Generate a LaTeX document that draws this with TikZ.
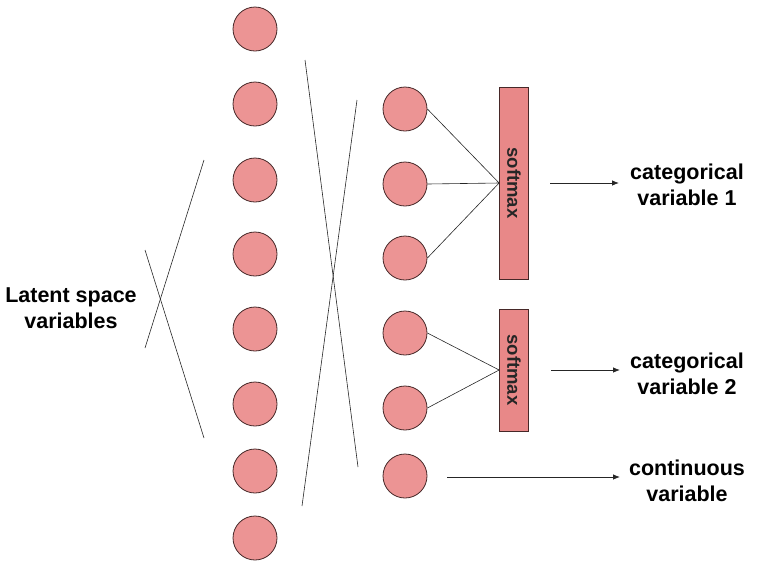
\documentclass[tikz,border=0pt]{standalone}
\usepackage{fontspec}
\setmainfont{Liberation Sans}
\usetikzlibrary{arrows.meta}
\definecolor{nodefill}{RGB}{236,148,148}
\definecolor{boxfill}{RGB}{232,136,136}
\definecolor{edge}{RGB}{70,40,40}
\begin{document}
\begin{tikzpicture}[x=1pt,y=-1pt,
  neuron/.style={circle,draw=edge,fill=nodefill,line width=0.8pt,minimum size=44pt,inner sep=0pt},
  smbox/.style={rectangle,draw=edge,fill=boxfill,line width=0.8pt,minimum width=29pt,inner sep=0pt},
  smtext/.style={font=\fontsize{18.5}{20}\selectfont\bfseries,text=black!85,rotate=-90},
  lbl/.style={align=center,font=\fontsize{21.5}{26}\selectfont\bfseries},
  wire/.style={line width=0.6pt,draw=black!85},
  arr/.style={line width=0.8pt,draw=black!85,-{Latex[length=7pt,width=5.5pt]}}]
\useasboundingbox (0,0) rectangle (757,566);
% first column
\foreach \i/\y in {1/29,2/104,3/180,4/254,5/329,6/404,7/471,8/538}
  \node[neuron] (c\i) at (255,\y) {};
% second column
\foreach \i/\y in {1/109,2/184,3/258,4/333,5/408,6/476}
  \node[neuron] (d\i) at (405,\y) {};
% softmax boxes
\node[smbox,minimum height=192pt] (s1) at (514,183) {};
\node[smtext] (t1) at (s1.center) {softmax};
\node[smbox,minimum height=122pt] (s2) at (514,370) {};
\node[smtext] (t2) at (s2.center) {softmax};
% circles to boxes
\foreach \i in {1,2,3} \draw[wire] (d\i.east) -- (s1.west);
\foreach \i in {4,5} \draw[wire] (d\i.east) -- (s2.west);
% crossing lines
\coordinate (a1) at (204,160); \coordinate (a2) at (145,348);
\coordinate (a3) at (145,250); \coordinate (a4) at (204,438);
\draw[wire] (a1) -- (a2);
\draw[wire] (a3) -- (a4);
\coordinate (b1) at (305,60); \coordinate (b2) at (358,467);
\coordinate (b3) at (357,100); \coordinate (b4) at (302,506);
\draw[wire] (b1) -- (b2);
\draw[wire] (b3) -- (b4);
% labels
\node[lbl] (lat) at (71,308) {Latent space\\variables};
\node[lbl] (cv1) at (687,185) {categorical\\variable 1};
\node[lbl] (cv2) at (687,374) {categorical\\variable 2};
\node[lbl] (cont) at (687,481) {continuous\\variable};
% arrows
\coordinate (e1) at (550,183); \coordinate (f1) at (619,183);
\coordinate (e2) at (551,370); \coordinate (f2) at (620,370);
\coordinate (e3) at (447,477); \coordinate (f3) at (620,477);
\draw[arr] (e1) -- (f1);
\draw[arr] (e2) -- (f2);
\draw[arr] (e3) -- (f3);
\end{tikzpicture}
\end{document}
